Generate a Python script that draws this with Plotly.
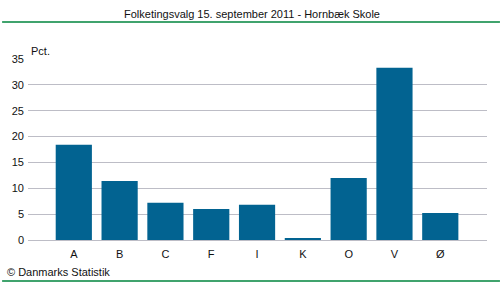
import plotly.graph_objects as go

categories = ["A", "B", "C", "F", "I", "K", "O", "V", "Ø"]
values = [18.4, 11.4, 7.2, 6.0, 6.8, 0.2, 12.0, 33.3, 5.2]
y_ticks = [0, 5, 10, 15, 20, 25, 30, 35]

W, H = 500, 282
ml, mr, mt, mb = 26, 13, 59, 42
pw, ph = W - ml - mr, H - mt - mb

def px_x(x):
    return (x - ml) / pw

def px_y(y):
    return (H - mb - y) / ph

font = "Liberation Sans, Arial, sans-serif"
green = "#00843D"

fig = go.Figure(go.Bar(
    x=list(range(len(categories))), y=values,
    marker=dict(color="#026391", line=dict(width=0)),
    width=0.79,
))

fig.update_layout(
    width=W, height=H,
    margin=dict(l=ml, r=mr, t=mt, b=mb),
    paper_bgcolor="white", plot_bgcolor="white",
    showlegend=False,
    font=dict(family=font, size=11, color="#111111"),
    xaxis=dict(
        range=[-1.0, 9.02], tickmode="array",
        tickvals=list(range(len(categories))), ticktext=categories,
        showgrid=False, zeroline=False, showline=False, ticks="",
        ticklabelstandoff=6,
        fixedrange=True,
    ),
    yaxis=dict(
        range=[0, 35], tickmode="array", tickvals=y_ticks,
        showgrid=True, gridcolor="#BDBDC6", gridwidth=1.3,
        zeroline=True, zerolinecolor="#BDBDC6", zerolinewidth=1.3,
        showline=False, ticks="", ticklabelstandoff=3,
        fixedrange=True,
    ),
    shapes=[
        dict(type="line", xref="paper", yref="paper",
             x0=px_x(0), x1=px_x(W), y0=px_y(22), y1=px_y(22),
             line=dict(color=green, width=1.5)),
        dict(type="line", xref="paper", yref="paper",
             x0=px_x(0), x1=px_x(W), y0=px_y(281), y1=px_y(281),
             line=dict(color=green, width=1.5)),
    ],
    annotations=[
        dict(text="Folketingsvalg 15. september 2011 - Hornbæk Skole",
             xref="paper", yref="paper", x=px_x(251), y=px_y(14),
             xanchor="center", yanchor="middle", showarrow=False,
             font=dict(size=11, color="#111111")),
        dict(text="Pct.", xref="paper", yref="paper",
             x=px_x(27), y=px_y(51), xanchor="left", yanchor="middle",
             showarrow=False, font=dict(size=11, color="#111111")),
        dict(text="© Danmarks Statistik", xref="paper", yref="paper",
             x=px_x(3), y=px_y(272), xanchor="left", yanchor="middle",
             showarrow=False, font=dict(size=11, color="#111111")),
    ],
)

fig.write_html("out.html")
